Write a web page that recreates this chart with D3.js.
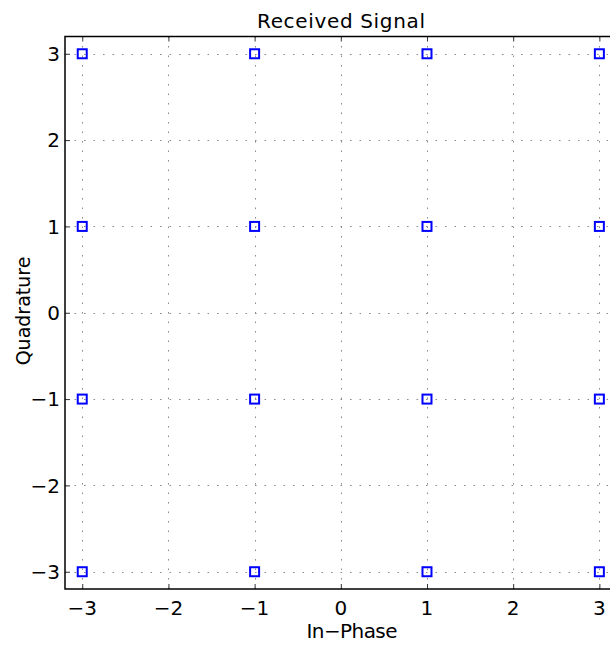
<!DOCTYPE html>
<html>
<head>
<meta charset="utf-8">
<script src="https://cdn.jsdelivr.net/npm/d3@7/dist/d3.min.js"></script>
<style>
  html, body { margin: 0; padding: 0; background: #fff; overflow: hidden; }
  svg { display: block; font-family: "DejaVu Sans", sans-serif; }
</style>
</head>
<body>
<script>
// 16-QAM constellation points (in-phase, quadrature)
const inPhase    = [-3, -3, -3, -3, -1, -1, -1, -1, 1, 1, 1, 1, 3, 3, 3, 3];
const quadrature = [ 3,  1, -1, -3,  3,  1, -1, -3, 3, 1, -1, -3, 3, 1, -1, -3];
const xTicks = [-3, -2, -1, 0, 1, 2, 3];
const yTicks = [-3, -2, -1, 0, 1, 2, 3];
const xLimits = [-3.2, 3.2];
const yLimits = [-3.2, 3.2];
const titleText = "Received Signal";
const xLabelText = "In\u2212Phase";
const yLabelText = "Quadrature";

const W = 610, H = 646;
const plot = { left: 65, right: 616.6, top: 36.5, bottom: 589 };

const svg = d3.select("body").append("svg").attr("width", W).attr("height", H);

const x = d3.scaleLinear().domain(xLimits).range([plot.left, plot.right]);
const y = d3.scaleLinear().domain(yLimits).range([plot.bottom, plot.top]);

const fmt = d => (d < 0 ? "\u2212" + Math.abs(d) : String(d));

// dotted grid
const grid = svg.append("g").attr("stroke", "#8c8c8c").attr("stroke-width", 1)
  .attr("stroke-dasharray", "1.6,7.9").attr("fill", "none");
grid.selectAll("line.gx").data(xTicks).join("line").attr("class", "gx")
  .attr("x1", d => Math.round(x(d)) + 0.5).attr("x2", d => Math.round(x(d)) + 0.5)
  .attr("y1", plot.top).attr("y2", plot.bottom);
grid.selectAll("line.gy").data(yTicks).join("line").attr("class", "gy")
  .attr("y1", d => Math.round(y(d)) + 0.5).attr("y2", d => Math.round(y(d)) + 0.5)
  .attr("x1", plot.left).attr("x2", plot.right);

// inward ticks via d3 axes
const tickLen = 5;
function styleAxis(g) {
  g.select(".domain").remove();
  g.selectAll(".tick line").attr("stroke", "#333").attr("stroke-width", 1);
  g.selectAll(".tick text").remove();
}
svg.append("g").attr("transform", `translate(0,${plot.bottom})`)
  .call(d3.axisBottom(x).tickValues(xTicks).tickSize(-tickLen)).call(styleAxis);
svg.append("g").attr("transform", `translate(0,${plot.top})`)
  .call(d3.axisTop(x).tickValues(xTicks).tickSize(-tickLen)).call(styleAxis);
svg.append("g").attr("transform", `translate(${plot.left},0)`)
  .call(d3.axisLeft(y).tickValues(yTicks).tickSize(-tickLen)).call(styleAxis);
svg.append("g").attr("transform", `translate(${plot.right},0)`)
  .call(d3.axisRight(y).tickValues(yTicks).tickSize(-tickLen)).call(styleAxis);

// tick labels
svg.append("g").selectAll("text").data(xTicks).join("text")
  .attr("x", d => x(d)).attr("y", 615)
  .attr("text-anchor", "middle").attr("font-size", 20).attr("fill", "#000")
  .text(fmt);
svg.append("g").selectAll("text").data(yTicks).join("text")
  .attr("x", 60).attr("y", d => y(d) + 7.3)
  .attr("text-anchor", "end").attr("font-size", 20).attr("fill", "#000")
  .text(fmt);

// spines
svg.append("rect")
  .attr("x", plot.left).attr("y", plot.top)
  .attr("width", plot.right - plot.left).attr("height", plot.bottom - plot.top)
  .attr("fill", "none").attr("stroke", "#000").attr("stroke-width", 1.5);

// square markers
const pts = inPhase.map((v, i) => ({ i: v, q: quadrature[i] }));
const side = 9;
svg.append("g").selectAll("rect").data(pts).join("rect")
  .attr("x", d => x(d.i) - side / 2).attr("y", d => y(d.q) - side / 2)
  .attr("width", side).attr("height", side)
  .attr("fill", "none").attr("stroke", "#0000ff").attr("stroke-width", 2);

// title
svg.append("text").attr("x", 341).attr("y", 27.5).attr("text-anchor", "middle")
  .attr("font-size", 20).attr("fill", "#000")
  .attr("textLength", 168).attr("lengthAdjust", "spacing").text(titleText);

// x label, tightly spaced
svg.append("text").attr("x", 352).attr("y", 638).attr("text-anchor", "middle")
  .attr("font-size", 20).attr("fill", "#000")
  .attr("textLength", 91).attr("lengthAdjust", "spacing").text(xLabelText);

// y label
svg.append("text").attr("transform", "translate(30,311) rotate(-90)")
  .attr("text-anchor", "middle").attr("font-size", 19).attr("fill", "#000")
  .text(yLabelText);
</script>
</body>
</html>
